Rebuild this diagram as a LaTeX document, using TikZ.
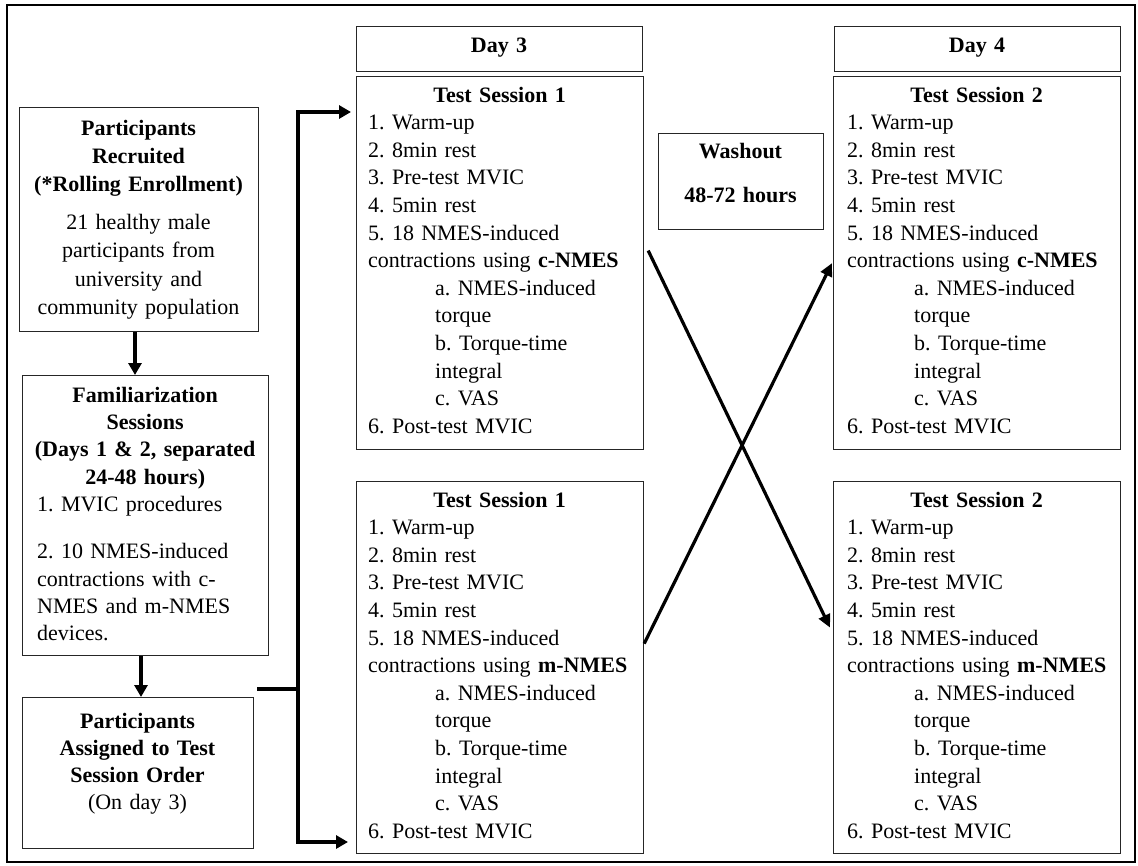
\documentclass[tikz,border=0pt]{standalone}
\usepackage{fontspec}
\setmainfont{Liberation Serif}
\usetikzlibrary{arrows.meta,calc}
\newcommand\tslines[3]{%
\makebox[#3pt]{\textbf{#1}}\\
1. Warm-up\\
2. 8min rest\\
3. Pre-test MVIC\\
4. 5min rest\\
5. 18 NMES-induced\\
contractions using \textbf{#2}\\
\hspace*{67pt}a. NMES-induced\\
\hspace*{67pt}torque\\
\hspace*{67pt}b. Torque-time\\
\hspace*{67pt}integral\\
\hspace*{67pt}c. VAS\\
6. Post-test MVIC}
\begin{document}
\frenchspacing
\begin{tikzpicture}[x=1pt,y=-1pt,
  box/.style={draw=black!85, line width=1.2pt, rectangle, inner sep=0pt, anchor=north west},
  txt/.style={inner sep=0pt, text width=#1, font=\fontsize{22}{27.6}\selectfont\frenchspacing},
  bar/.style={line width=3.5pt, line join=miter},
  arr/.style={-{Triangle[length=12pt,width=13pt]}},
  cross/.style={line width=3.2pt, -{Triangle[length=13pt,width=12pt]}}]
\useasboundingbox (0,0) rectangle (1138,865);
\draw[line width=2pt] (7,5) rectangle (1135,862);
% boxes
\node[box, minimum width=239pt, minimum height=224pt] (rec) at (19,107) {};
\node[box, minimum width=246pt, minimum height=280pt] (fam) at (22,375) {};
\node[box, minimum width=231pt, minimum height=151pt] (asg) at (22,697) {};
\node[box, minimum width=286pt, minimum height=45pt] (day3) at (356,26) {};
\node[box, minimum width=287pt, minimum height=373pt] (ts1a) at (356,76) {};
\node[box, minimum width=287pt, minimum height=372pt] (ts1b) at (356,481) {};
\node[box, minimum width=165pt, minimum height=96pt] (wash) at (658,133) {};
\node[box, minimum width=286pt, minimum height=45pt] (day4) at (834,26) {};
\node[box, minimum width=287pt, minimum height=373pt] (ts2a) at (833,76) {};
\node[box, minimum width=287pt, minimum height=372pt] (ts2b) at (833,481) {};
% texts
\node[txt=239pt, align=center, anchor=base, font=\fontsize{22}{28.3}\selectfont\frenchspacing] (rect) at (138.5,135)
  {\textbf{Participants}\\\textbf{Recruited}\\\textbf{(*Rolling Enrollment)}\\[9.7pt]
   21 healthy male\\participants from\\university and\\community population};
\node[txt=240pt, align=left, anchor=base west, font=\fontsize{22}{27.4}\selectfont\frenchspacing] (famt) at (37,402)
  {\makebox[216pt]{\textbf{Familiarization}}\\\makebox[216pt]{\textbf{Sessions}}\\
   \makebox[216pt]{\textbf{(Days 1 \& 2, separated}}\\\makebox[216pt]{\textbf{24-48 hours)}}\\
   1. MVIC procedures\\[19.6pt]
   2. 10 NMES-induced\\contractions with c-\\NMES and m-NMES\\devices.};
\node[txt=231pt, align=center, anchor=base, font=\fontsize{22}{27.3}\selectfont\frenchspacing] (asgt) at (137.5,728)
  {\textbf{Participants}\\\textbf{Assigned to Test}\\\textbf{Session Order}\\(On day 3)};
\node[txt=286pt, align=center, anchor=base] (day3t) at (499,52) {\textbf{Day 3}};
\node[txt=286pt, align=center, anchor=base] (day4t) at (977,52) {\textbf{Day 4}};
\node[txt=165pt, align=center, anchor=base] (washt) at (740.5,158) {\textbf{Washout}\\[16.4pt]\textbf{48-72 hours}};
\node[txt=300pt, align=left, anchor=base west] (ts1at) at (368,102) {\tslines{Test Session 1}{c-NMES}{263}};
\node[txt=300pt, align=left, anchor=base west] (ts1bt) at (368,507) {\tslines{Test Session 1}{m-NMES}{263}};
\node[txt=300pt, align=left, anchor=base west] (ts2at) at (847,102) {\tslines{Test Session 2}{c-NMES}{259}};
\node[txt=300pt, align=left, anchor=base west] (ts2bt) at (847,507) {\tslines{Test Session 2}{m-NMES}{259}};
% left column arrows
\draw[bar, arr] (rec.south -| 135,0) -- (fam.north -| 135,0);
\draw[bar, arr] (fam.south -| 141,0) -- (asg.north -| 141,0);
% bracket
\coordinate (brtop) at (298,112);
\coordinate (brmid) at (298,689);
\coordinate (brbot) at (298,842);
\coordinate (stub) at (257,689);
\draw[bar] (stub) -- (brmid);
\draw[bar, arr] (brmid) -- (brtop) -- ($(ts1a.west |- brtop)+(-5,0)$);
\draw[bar, arr] (brmid) -- (brbot) -- ($(ts1b.west |- brbot)+(-8,0)$);
% crossover
\draw[cross] ([shift={(4,-12.5)}]ts1a.east) -- ([shift={(-3,-40)}]ts2b.west);
\draw[cross] ([shift={(0,-24)}]ts1b.east) -- ([shift={(-1,0)}]ts2a.west);
\end{tikzpicture}
\end{document}
